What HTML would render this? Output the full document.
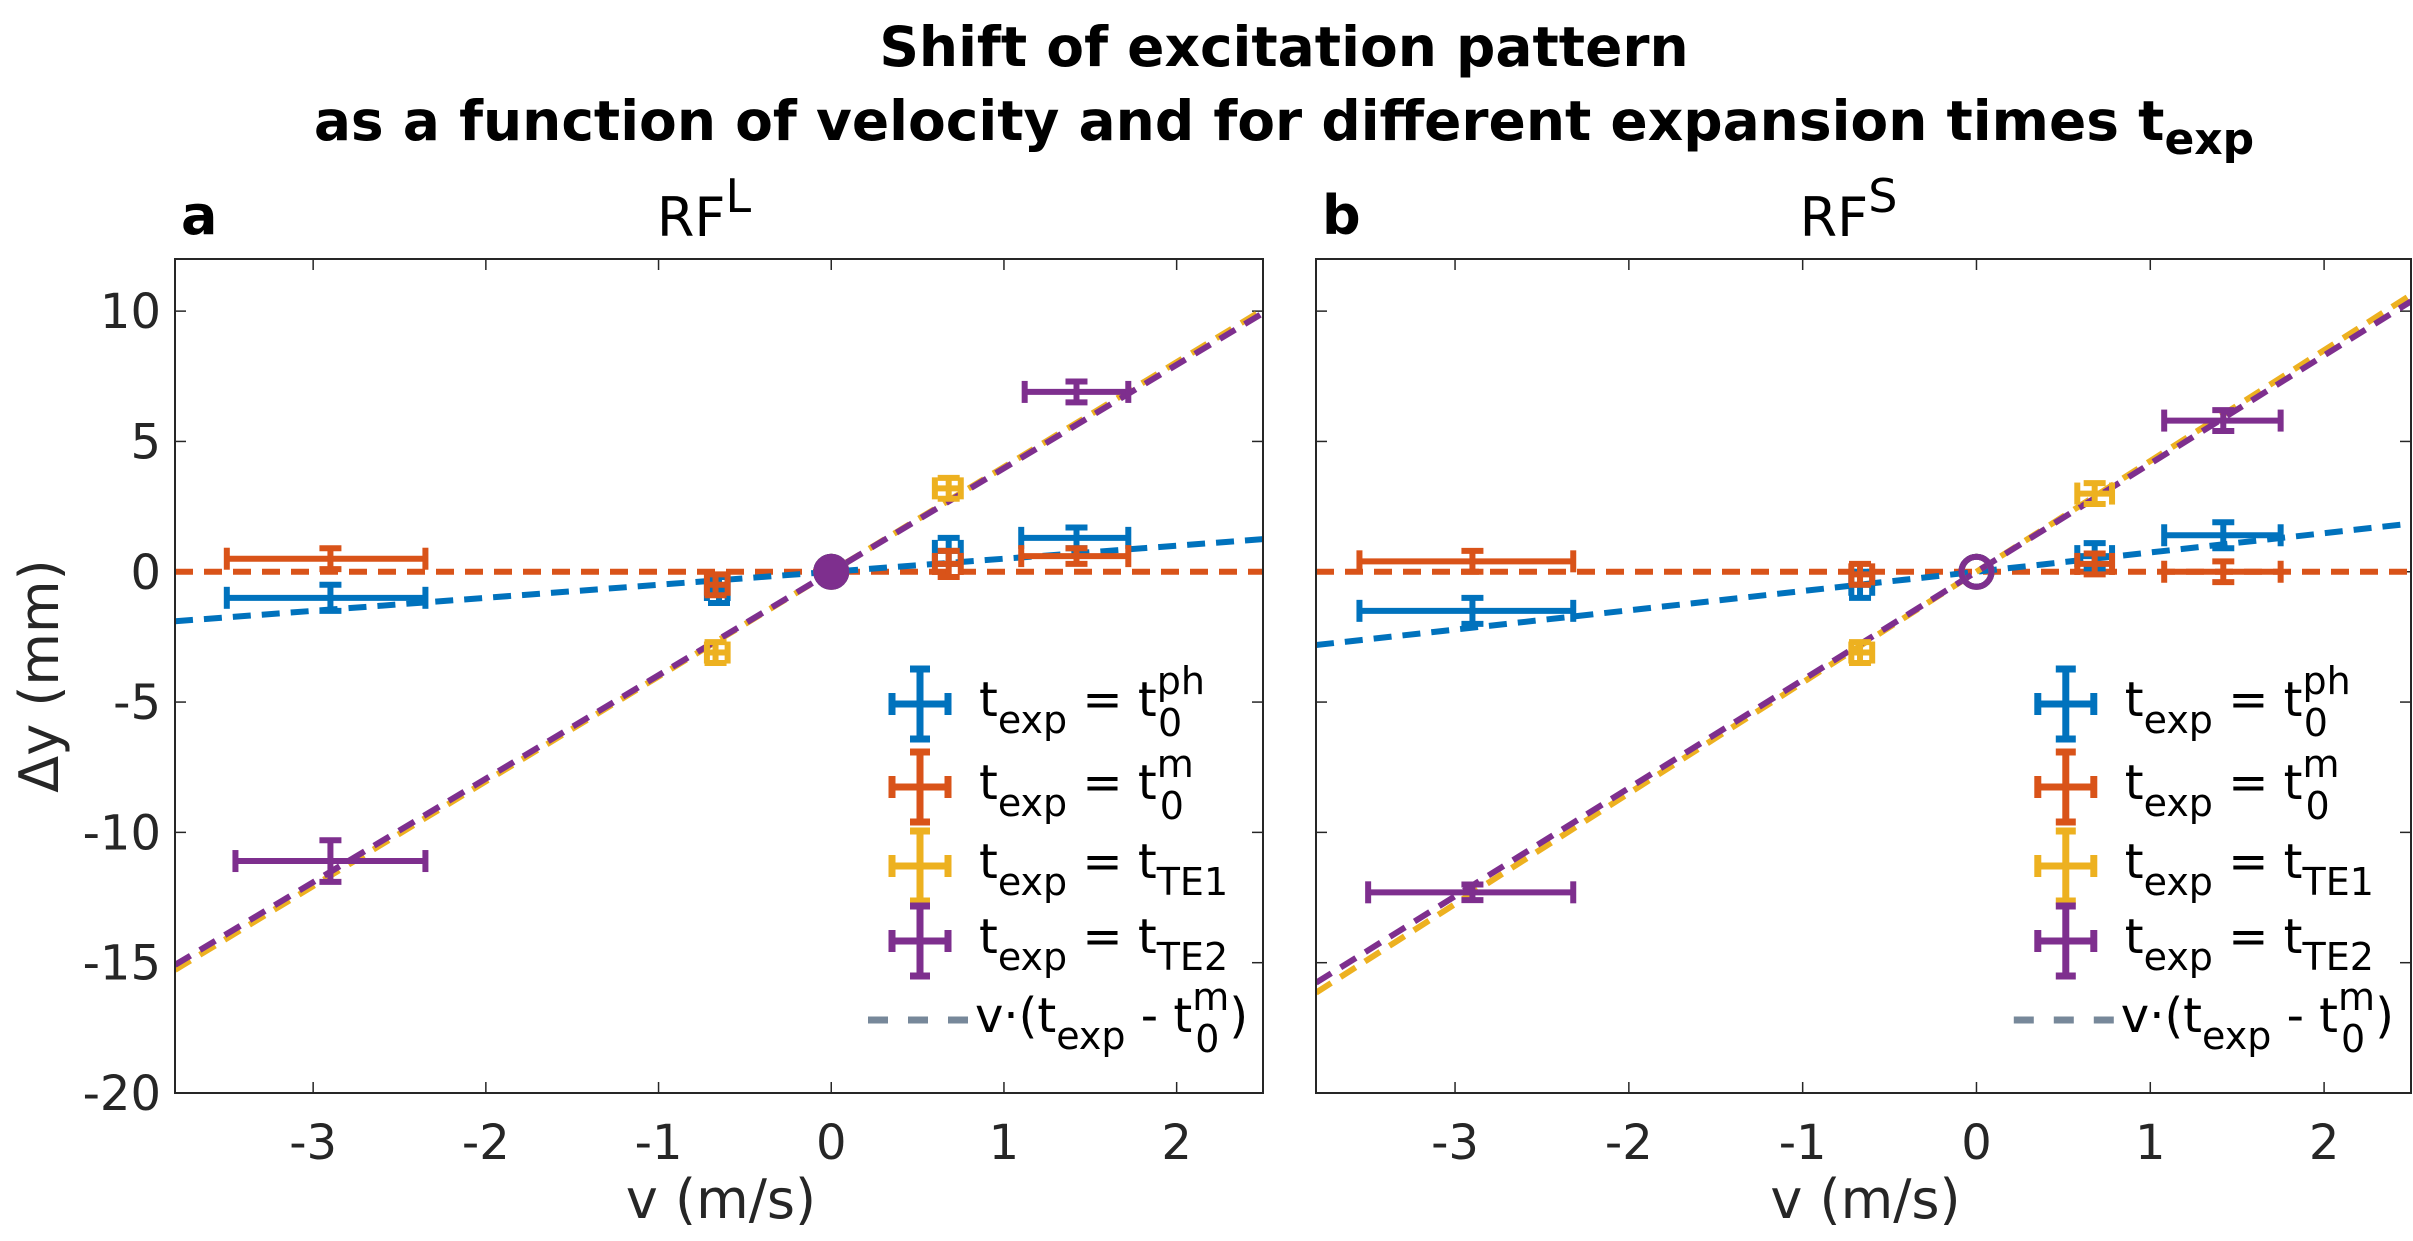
<!DOCTYPE html>
<html><head><meta charset="utf-8"><style>
html,body{margin:0;padding:0;background:#fff;}
svg{display:block;font-family:"DejaVu Sans","Liberation Sans",sans-serif;}
</style></head><body>
<svg id="fig" width="2413" height="1241" viewBox="0 0 2413 1241" xmlns="http://www.w3.org/2000/svg">
<rect width="2413" height="1241" fill="#fff"/>
<text x="1284" y="66" text-anchor="middle" font-size="55" font-weight="bold" fill="#000">Shift of excitation pattern</text>
<text x="1284" y="140" text-anchor="middle" font-size="55" font-weight="bold" fill="#000">as a function of velocity and for different expansion times t<tspan dy="14" font-size="44">exp</tspan></text>
</svg>
<script>
const categories=["ph","m","TE1","TE2"];
const colors=["#0072BD","#D95319","#EDB120","#7E2F8E"];
const aV=[[-2.9,-0.65,0.68,1.42],[-2.9,-0.67,0.68,1.42],[-0.67,0.68],[-2.9,1.42]];
const aY=[[-1.0,-0.7,0.8,1.3],[0.5,-0.5,0.3,0.6],[-3.1,3.2],[-11.1,6.9]];
const aXlo=[[-3.5,-0.72,0.6,1.1],[-3.5,-0.72,0.6,1.1],[-0.72,0.6],[-3.45,1.12]];
const aXhi=[[-2.35,-0.6,0.75,1.72],[-2.35,-0.6,0.75,1.72],[-0.6,0.75],[-2.35,1.72]];
const aYerr=[[0.5,0.5,0.5,0.4],[0.4,0.4,0.5,0.3],[0.4,0.4],[0.8,0.4]];
const aSlope=[0.5,0,4.02,3.97];
const bV=[[-2.9,-0.67,0.68,1.42],[-2.9,-0.67,0.68,1.42],[-0.67,0.68],[-2.9,1.42]];
const bY=[[-1.5,-0.5,0.6,1.4],[0.4,-0.1,0.3,0.0],[-3.1,3.0],[-12.3,5.8]];
const bXlo=[[-3.55,-0.72,0.58,1.08],[-3.55,-0.72,0.58,1.08],[-0.72,0.58],[-3.5,1.08]];
const bXhi=[[-2.32,-0.6,0.78,1.75],[-2.32,-0.6,0.78,1.75],[-0.6,0.78],[-2.32,1.75]];
const bYerr=[[0.5,0.5,0.5,0.5],[0.4,0.4,0.4,0.4],[0.4,0.4],[0.3,0.4]];
const bSlope=[0.74,0,4.25,4.15];
const xTicks=[-3,-2,-1,0,1,2];
const yTicks=[-20,-15,-10,-5,0,5,10];
const xMin=-3.8,xMax=2.5,yMin=-20,yMax=12;
const NS="http://www.w3.org/2000/svg";
const svg=document.getElementById('fig');
function mk(tag,attrs,parent){const e=document.createElementNS(NS,tag);for(const k in attrs)e.setAttribute(k,attrs[k]);(parent||svg).appendChild(e);return e;}
function panel(id,L,R,T,B,letter,title,sup,V,Y,Xlo,Xhi,Yerr,slope,showY){
  const g=mk('g',{});
  
  
  const sx=v=>L+(v-xMin)/(xMax-xMin)*(R-L);
  const sy=v=>B-(v-yMin)/(yMax-yMin)*(B-T);
  const clipId='clip'+id;
  const cp=mk('clipPath',{id:clipId},g);mk('rect',{x:L,y:T,width:R-L,height:B-T},cp);
  const t=mk('text',{x:(L+R)/2-15,y:236,'text-anchor':'middle','font-size':54,fill:'#000'},g);
  t.textContent=title;
  const ts=mk('tspan',{dy:-24,'font-size':46},t);ts.textContent=sup;
  
  
  const lt=mk('text',{x:L+6,y:234,'font-size':54,'font-weight':'bold',fill:'#000'},g);
  lt.textContent=letter;
  
  
  xTicks.forEach(v=>{
    mk('line',{x1:sx(v),x2:sx(v),y1:B,y2:B-11,stroke:'#262626','stroke-width':1.5},g);
    mk('line',{x1:sx(v),x2:sx(v),y1:T,y2:T+11,stroke:'#262626','stroke-width':1.5},g);
    const tx=mk('text',{x:sx(v),y:B+66,'text-anchor':'middle','font-size':48,fill:'#262626'},g);
    tx.textContent=v;
    
    
  });
  yTicks.forEach(v=>{
    mk('line',{x1:L,x2:L+11,y1:sy(v),y2:sy(v),stroke:'#262626','stroke-width':1.5},g);
    mk('line',{x1:R,x2:R-11,y1:sy(v),y2:sy(v),stroke:'#262626','stroke-width':1.5},g);
    if(showY){
      const ty=mk('text',{x:L-14,y:sy(v)+17,'text-anchor':'end','font-size':48,fill:'#262626'},g);
      ty.textContent=v;
      
      
    }
  });
  const xl=mk('text',{x:(L+R)/2+2,y:1218,'text-anchor':'middle','font-size':54,fill:'#262626'},g);
  xl.textContent='v (m/s)';
  
  
  if(showY){
    const yl=mk('text',{transform:`translate(58,${(T+B)/2}) rotate(-90)`,'text-anchor':'middle','font-size':54,fill:'#262626'},g);
    yl.textContent='\u0394y (mm)';
    
    
  }
  const dg=mk('g',{'clip-path':`url(#${clipId})`},g);
  [1,0,2,3].forEach(i=>{
    const ln=mk('line',{x1:sx(xMin),y1:sy(slope[i]*xMin),x2:sx(xMax),y2:sy(slope[i]*xMax),stroke:colors[i],'stroke-width':6,'stroke-dasharray':'18 11'},dg);
    
    
  });
  [1,2,0,3].forEach(i=>{
    const c=mk('circle',{cx:sx(0),cy:sy(0),r:15,fill:id=='a'&&(i==3||i==1)?colors[i]:'none',stroke:colors[i],'stroke-width':6},dg);
    
    
  });
  V.forEach((arr,i)=>arr.forEach((v,j)=>{
    const eg=mk('g',{stroke:colors[i],'stroke-width':6,fill:'none'},dg);
    
    
    const x=sx(v),y=sy(Y[i][j]),x1=sx(Xlo[i][j]),x2=sx(Xhi[i][j]),y1=sy(Y[i][j]+Yerr[i][j]),y2=sy(Y[i][j]-Yerr[i][j]);
    mk('line',{x1:x1,x2:x2,y1:y,y2:y},eg);
    mk('line',{x1:x1,x2:x1,y1:y-11,y2:y+11},eg);
    mk('line',{x1:x2,x2:x2,y1:y-11,y2:y+11},eg);
    mk('line',{x1:x,x2:x,y1:y1,y2:y2},eg);
    mk('line',{x1:x-11,x2:x+11,y1:y1,y2:y1},eg);
    mk('line',{x1:x-11,x2:x+11,y1:y2,y2:y2},eg);
  }));
  mk('rect',{x:L,y:T,width:R-L,height:B-T,fill:'none',stroke:'#262626','stroke-width':2},g);
  const lx=L+745*(R-L)/1088, rows=[704,787,866,941];
  const labs=[['ph','0'],['m','0'],['','TE1'],['','TE2']];
  rows.forEach((ry,i)=>{
    const lg=mk('g',{},g);
    
    
    const cg=mk('g',{stroke:colors[i],'stroke-width':7},lg);
    mk('line',{x1:lx-28,x2:lx+28,y1:ry,y2:ry},cg);
    mk('line',{x1:lx-28,x2:lx-28,y1:ry-11,y2:ry+11},cg);
    mk('line',{x1:lx+28,x2:lx+28,y1:ry-11,y2:ry+11},cg);
    mk('line',{x1:lx,x2:lx,y1:ry-35,y2:ry+35},cg);
    mk('line',{x1:lx-10,x2:lx+10,y1:ry-35,y2:ry-35},cg);
    mk('line',{x1:lx-10,x2:lx+10,y1:ry+35,y2:ry+35},cg);
    const tt=mk('text',{x:lx+59,y:ry+12,'font-size':48,fill:'#000'},lg);
    tt.innerHTML=`t<tspan dy="17" font-size="38">exp</tspan><tspan dy="-17"> = t</tspan>`+
      (labs[i][0]?`<tspan dy="-22" font-size="38">${labs[i][0]}</tspan><tspan dx="-${labs[i][0]=='ph'?47:34}" dy="42" font-size="38">${labs[i][1]}</tspan>`:`<tspan dy="17" font-size="38">${labs[i][1]}</tspan>`);
  });
  const fg=mk('g',{},g);
  
  
  mk('line',{x1:lx-52,x2:lx+52,y1:1020,y2:1020,stroke:'#77889A','stroke-width':7,'stroke-dasharray':'20 20'},fg);
  const ft=mk('text',{x:lx+55,y:1032,'font-size':48,fill:'#000'},fg);
  ft.innerHTML='v·(t<tspan dy="17" font-size="38">exp</tspan><tspan dy="-17"> - t</tspan><tspan dy="-22" font-size="38">m</tspan><tspan dx="-34" dy="42" font-size="38">0</tspan><tspan dx="10" dy="-20">)</tspan>';
}
panel('a',175,1263,259,1093,'a','RF','L',aV,aY,aXlo,aXhi,aYerr,aSlope,true);
panel('b',1316,2411,259,1093,'b','RF','S',bV,bY,bXlo,bXhi,bYerr,bSlope,false);
</script>
</body></html>
